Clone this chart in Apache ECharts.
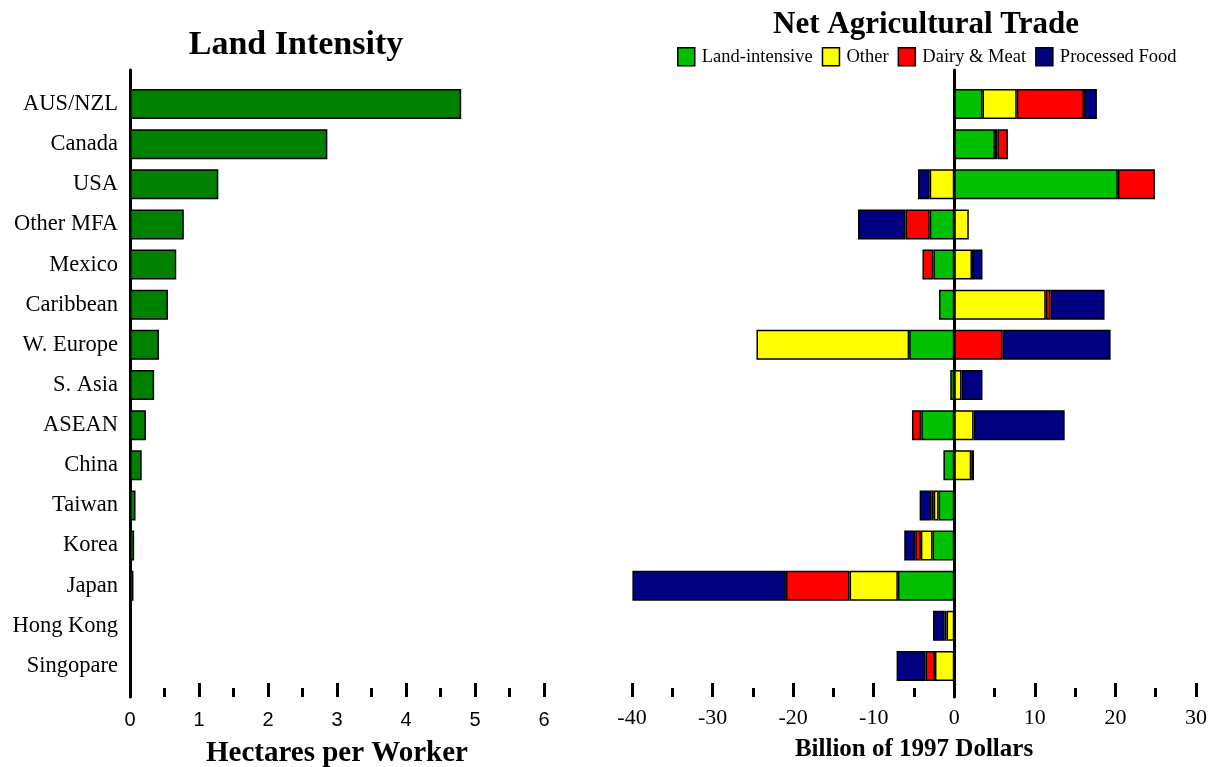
<!DOCTYPE html>
<html>
<head>
<meta charset="utf-8">
<script src="https://cdn.jsdelivr.net/npm/echarts@6/dist/echarts.min.js"></script>
<style>
  html, body { margin: 0; padding: 0; background: #fff; }
  #chart { width: 1220px; height: 767px; }
</style>
</head>
<body>
<div id="chart"></div>
<script>
const regions = ['AUS/NZL', 'Canada', 'USA', 'Other MFA', 'Mexico', 'Caribbean', 'W. Europe',
  'S. Asia', 'ASEAN', 'China', 'Taiwan', 'Korea', 'Japan', 'Hong Kong', 'Singopare'];

// hectares per worker
const landIntensity = [4.80, 2.86, 1.28, 0.78, 0.67, 0.55, 0.42, 0.35, 0.23, 0.17, 0.08, 0.06, 0.05, 0, 0];

// net trade, billion 1997 dollars
const landIntensive = [3.5, 5.05, 20.3, -3.05, -2.6, -1.9, -5.6, -0.5, -4.1, -1.35, -1.95, -2.7, -7.0, 0, 0];
const other = [4.25, 0.3, -3.05, 1.8, 2.2, 11.35, -18.95, 0.9, 2.4, 2.1, -0.6, -1.45, -6.0, -0.96, -2.4];
const dairyMeat = [8.35, 1.3, 4.6, -3.0, -1.35, 0.6, 6.0, 0, -1.15, 0, -0.3, -0.7, -7.9, -0.28, -1.16];
const processedFood = [1.6, 0, -1.45, -5.9, 1.3, 6.7, 13.4, 2.6, 11.3, 0.35, -1.45, -1.36, -19.05, -1.4, -3.6];

const serif = '"Liberation Serif", "DejaVu Serif", serif';
const sans = '"Liberation Sans", Arial, sans-serif';

const chart = echarts.init(document.getElementById('chart'));

const skip = v => (v === 0 ? '-' : v);

function tradeSeries(name, color, values) {
  return {
    name: name,
    type: 'bar',
    stack: 'trade',
    xAxisIndex: 1,
    yAxisIndex: 1,
    barWidth: 30,
    itemStyle: { color: color, borderColor: '#000', borderWidth: 1.5 },
    data: values.map(skip)
  };
}

// ticks drawn on a separate grid so they sit below the bars
function tickAxis(grid, min, max, interval, font, size, margin) {
  return {
    type: 'value', gridIndex: grid, min: min, max: max, interval: interval,
    axisLine: { show: false },
    axisTick: { show: true, inside: true, length: 14, lineStyle: { color: '#000', width: 3 } },
    minorTick: { show: true, splitNumber: 2, length: 9, lineStyle: { color: '#000', width: 3 } },
    splitLine: { show: false },
    axisLabel: { margin: margin, color: '#000', fontFamily: font, fontSize: size }
  };
}

const option = {
  animation: false,
  backgroundColor: '#fff',
  title: [
    { text: 'Land Intensity', left: 291, top: 23, textAlign: 'center',
      textStyle: { fontFamily: serif, fontSize: 34, fontWeight: 'bold', color: '#000' } },
    { text: 'Net Agricultural Trade', left: 921, top: 4, textAlign: 'center',
      textStyle: { fontFamily: serif, fontSize: 31, fontWeight: 'bold', color: '#000' } }
  ],
  legend: {
    data: ['Land-intensive', 'Other', 'Dairy & Meat', 'Processed Food'],
    left: 672, top: 42,
    itemWidth: 17, itemHeight: 18, itemGap: 9,
    icon: 'rect',
    itemStyle: { borderColor: '#000', borderWidth: 1.5 },
    textStyle: { fontFamily: serif, fontSize: 18.5, color: '#000', padding: [0, 0, 0, 2] }
  },
  grid: [
    { left: 130, right: 676, top: 84, bottom: 81, outerBoundsMode: 'none' },
    { left: 632, right: 24, top: 84, bottom: 81, outerBoundsMode: 'none' },
    { left: 130, right: 676, top: 70, bottom: 70, outerBoundsMode: 'none' },
    { left: 632, right: 24, top: 70, bottom: 70, outerBoundsMode: 'none' }
  ],
  xAxis: [
    { type: 'value', gridIndex: 0, min: 0, max: 6, show: false },
    { type: 'value', gridIndex: 1, min: -40, max: 30, show: false },
    Object.assign(tickAxis(2, 0, 6, 1, sans, 20, 13), {
      name: 'Hectares per Worker', nameLocation: 'middle', nameGap: 42,
      nameTextStyle: { fontFamily: serif, fontSize: 29, fontWeight: 'bold', color: '#000' }
    }),
    Object.assign(tickAxis(3, -40, 30, 10, serif, 22, 10), {
      name: 'Billion of 1997 Dollars', nameLocation: 'middle', nameGap: 40,
      nameTextStyle: { fontFamily: serif, fontSize: 25, fontWeight: 'bold', color: '#000' }
    })
  ],
  yAxis: [
    { type: 'category', gridIndex: 0, data: regions, inverse: true,
      axisLine: { show: false }, axisTick: { show: false },
      axisLabel: { margin: 12, color: '#000', fontFamily: serif, fontSize: 22.5 } },
    { type: 'category', gridIndex: 1, data: regions, inverse: true, show: false },
    { type: 'value', gridIndex: 2, min: 0, max: 1,
      axisLine: { show: true, lineStyle: { color: '#000', width: 3 } },
      axisTick: { show: false }, axisLabel: { show: false }, splitLine: { show: false } },
    { type: 'value', gridIndex: 3, min: 0, max: 1,
      axisLine: { show: true, onZero: true, lineStyle: { color: '#000', width: 3 } },
      axisTick: { show: false }, axisLabel: { show: false }, splitLine: { show: false } }
  ],
  series: [
    {
      name: 'Land Intensity',
      type: 'bar',
      xAxisIndex: 0,
      yAxisIndex: 0,
      barWidth: 30,
      itemStyle: { color: '#008000', borderColor: '#000', borderWidth: 1.5 },
      data: landIntensity.map(skip)
    },
    tradeSeries('Land-intensive', '#00C000', landIntensive),
    tradeSeries('Other', '#FFFF00', other),
    tradeSeries('Dairy & Meat', '#FF0000', dairyMeat),
    tradeSeries('Processed Food', '#000080', processedFood)
  ]
};

chart.setOption(option);
</script>
</body>
</html>
